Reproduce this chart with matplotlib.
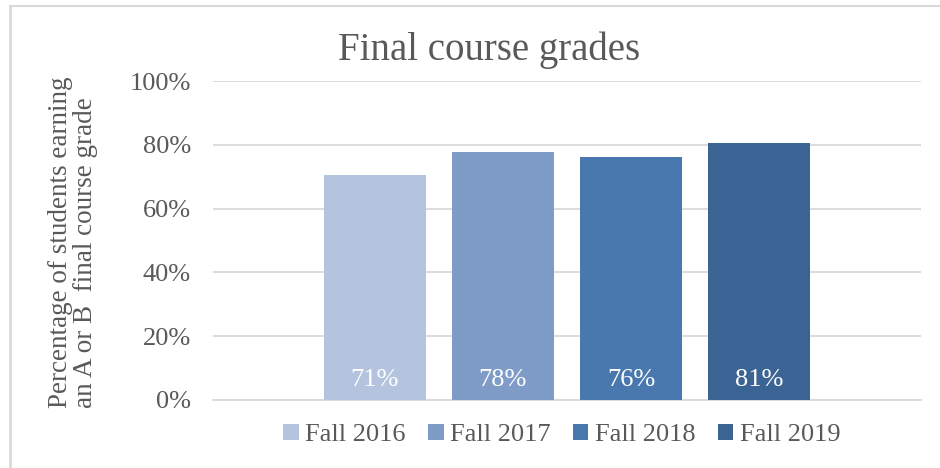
import matplotlib
matplotlib.use("Agg")
import matplotlib.pyplot as plt
from matplotlib.patches import Patch
from matplotlib.lines import Line2D
import numpy as np

series = ["Fall 2016", "Fall 2017", "Fall 2018", "Fall 2019"]
values = [0.706, 0.776, 0.761, 0.806]
colors = ["#B4C4DE", "#7F9CC8", "#4878AE", "#3B6495"]
yticks = [0, 0.2, 0.4, 0.6, 0.8, 1.0]
ytick_labels = ["0%", "20%", "40%", "60%", "80%", "100%"]
title = "Final course grades"
ylabel = "Percentage of students earning\nan A or B  final course grade"

TXT = "#595959"
GRID = "#D9D9D9"
FONT = "Liberation Serif"
plt.rcParams["font.family"] = FONT

fig = plt.figure(figsize=(9.4, 4.68), dpi=100)
ax = fig.add_axes([213/940, 1-400/468, (921-213)/940, (400-81)/468])

width = 0.144
step = 0.181
xs = (np.arange(len(series)) - 1.5) * step
for x, v, c, s in zip(xs, values, colors, series):
    ax.bar(x, v, width=width, color=c, label=s, zorder=3)
    ax.text(x, 0.045, f"{round(v*100):d}%", ha="center", va="baseline",
            color="white", fontsize=19)

ax.set_xlim(-0.5, 0.5)
ax.set_ylim(0, 1.0)
ax.set_yticks(yticks)
ax.set_yticklabels(ytick_labels, color=TXT, fontsize=19)
ax.set_xticks([])
ax.tick_params(axis="y", length=0, pad=16)
ax.grid(axis="y", color=GRID, linewidth=1.3, zorder=0)
ax.set_axisbelow(True)
for sp in ["top", "right", "left"]:
    ax.spines[sp].set_visible(False)
ax.spines["bottom"].set_color(GRID)
ax.spines["bottom"].set_linewidth(1.3)

fig.text(489/940, 1-50/468, title, ha="center", va="center", color=TXT, fontsize=28)
fig.text(73/940, 1-242/468, ylabel, ha="center", va="center", rotation=90,
         multialignment="left", color=TXT, fontsize=19.5, linespacing=1.05)

handles = [Patch(facecolor=c, edgecolor="none") for c in colors]
fig.legend(handles, series, loc="center", bbox_to_anchor=(562/940, 1-435/468),
           ncol=4, frameon=False, fontsize=19, handlelength=0.58, handleheight=0.58,
           handletextpad=0.25, columnspacing=0.85, labelcolor=TXT)

# chart border (top and left edges visible)
fig.add_artist(Line2D([10/940, 1.0], [1-5.5/468, 1-5.5/468], transform=fig.transFigure,
                      color=GRID, linewidth=1.5))
fig.add_artist(Line2D([10/940, 10/940], [0.0, 1-5.5/468], transform=fig.transFigure,
                      color=GRID, linewidth=2.0))

fig.savefig("out.png", dpi=100)
